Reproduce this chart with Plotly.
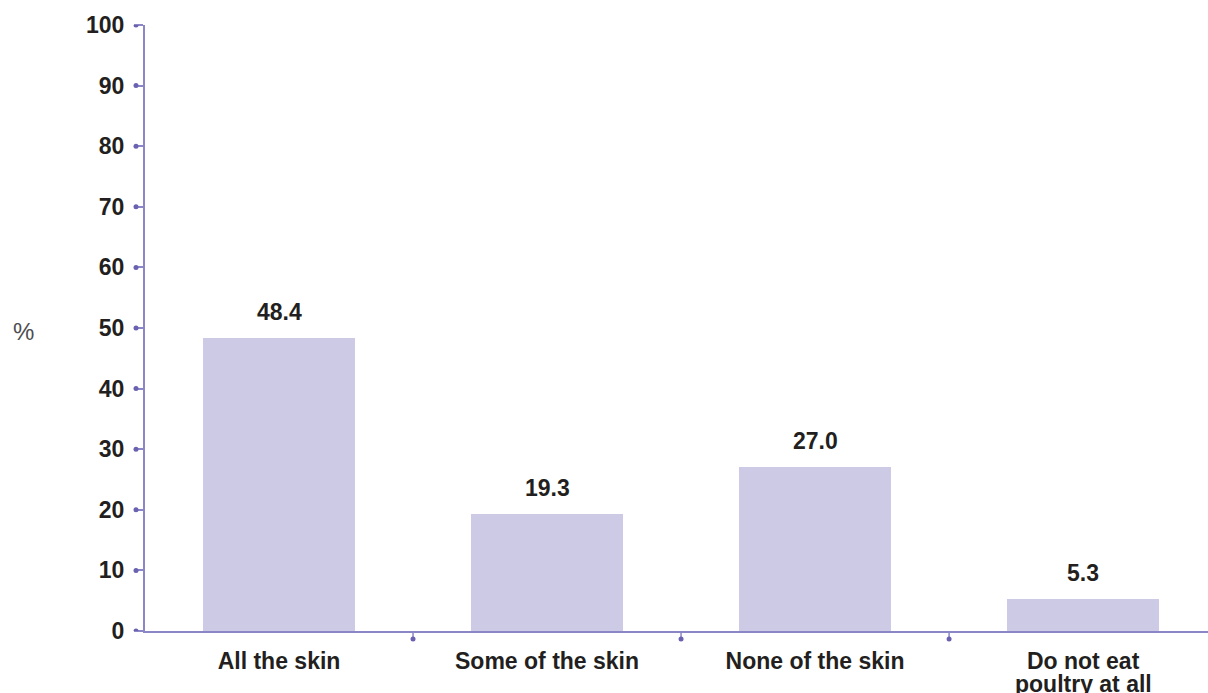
import plotly.graph_objects as go

# Share of respondents by how much poultry skin they eat
categories = ["All the skin", "Some of the skin", "None of the skin", "Do not eat<br>poultry at all"]
values = [48.4, 19.3, 27.0, 5.3]
value_labels = ["48.4", "19.3", "27.0", "5.3"]
y_ticks = [0, 10, 20, 30, 40, 50, 60, 70, 80, 90, 100]
x_boundaries = [0.5, 1.5, 2.5]

BAR = "#cdcae6"
AXIS = "#8b86c6"
DOT = "#6a62b0"
TEXT = "#231f20"
FONT = "Liberation Sans, Arial, sans-serif"
FS = 23

fig = go.Figure()
fig.add_trace(go.Bar(
    x=list(range(len(categories))),
    y=values,
    width=0.567,
    marker=dict(color=BAR, line=dict(width=0)),
    hoverinfo="skip",
))

# value labels above each bar
for i, (v, t) in enumerate(zip(values, value_labels)):
    fig.add_annotation(x=i, y=v, text=f"<b>{t}</b>", showarrow=False,
                       yanchor="middle", yshift=26,
                       font=dict(family=FONT, size=FS, color=TEXT))

# category labels: first line on the axis, further lines set tightly below
first_lines = [c.split("<br>")[0] for c in categories]
for i, c in enumerate(categories):
    for k, line in enumerate(c.split("<br>")[1:], start=1):
        fig.add_annotation(xref="x", yref="paper", x=i, y=0,
                           text=f"<b>{line}</b>", showarrow=False,
                           xanchor="center", yanchor="middle",
                           yshift=-(29 + 24 * k),
                           font=dict(family=FONT, size=FS, color=TEXT))

shapes = []
# dots at the ends of the y-axis ticks
for t in y_ticks:
    shapes.append(dict(type="circle", xref="paper", yref="y",
                       xsizemode="pixel", ysizemode="pixel",
                       xanchor=0, yanchor=t,
                       x0=-11.5, x1=-6.5, y0=-2.5, y1=2.5,
                       fillcolor=DOT, line=dict(width=0)))
# ticks with dots on the category boundaries
for b in x_boundaries:
    shapes.append(dict(type="line", xref="x", yref="paper",
                       ysizemode="pixel", yanchor=0,
                       x0=b, x1=b, y0=0, y1=-8,
                       line=dict(color=AXIS, width=1.5)))
    shapes.append(dict(type="circle", xref="x", yref="paper",
                       xsizemode="pixel", ysizemode="pixel",
                       xanchor=b, yanchor=0,
                       x0=-2.5, x1=2.5, y0=-10.5, y1=-5.5,
                       fillcolor=DOT, line=dict(width=0)))

fig.add_annotation(xref="paper", yref="paper", x=-0.114, y=0.495,
                   text="%", showarrow=False, xanchor="center", yanchor="middle",
                   font=dict(family=FONT, size=24, color="#4d4d4f"))

fig.update_layout(
    width=1208, height=693,
    margin=dict(l=145, r=0, t=25, b=62, autoexpand=False),
    paper_bgcolor="white", plot_bgcolor="white",
    showlegend=False,
    shapes=shapes,
    bargap=0,
    xaxis=dict(
        range=[-0.5, 3.466],
        tickmode="array", tickvals=list(range(len(categories))),
        ticktext=[f"<b>{c}</b>" for c in first_lines],
        ticks="", showgrid=False, zeroline=False,
        showline=True, linecolor=AXIS, linewidth=2,
        ticklabelstandoff=8, automargin=False,
        tickfont=dict(family=FONT, size=FS, color=TEXT),
        fixedrange=True,
    ),
    yaxis=dict(
        range=[0, 100],
        tickmode="array", tickvals=y_ticks,
        ticktext=[f"<b>{t}</b>" for t in y_ticks],
        ticks="outside", ticklen=9, tickwidth=1.5, tickcolor=AXIS,
        showgrid=False, zeroline=False,
        showline=True, linecolor=AXIS, linewidth=2,
        ticklabelstandoff=5, automargin=False,
        tickfont=dict(family=FONT, size=FS, color=TEXT),
        fixedrange=True,
    ),
)

fig.write_html("out.html")
